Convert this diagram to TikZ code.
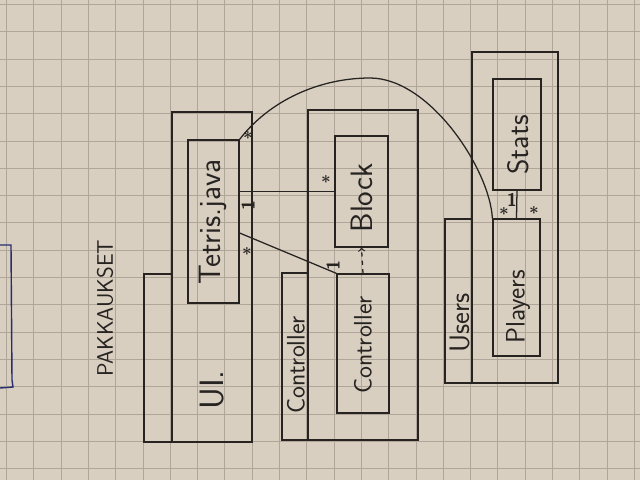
\documentclass[tikz,border=0pt]{standalone}
\usetikzlibrary{calc}
\definecolor{paper}{RGB}{216,207,193}
\definecolor{gridcol}{RGB}{175,166,153}
\definecolor{ink}{RGB}{38,35,33}
\definecolor{blueink}{RGB}{40,45,110}
\tikzset{
  pen/.style={draw=ink, line width=0.9pt},
  cls/.style={pen, rectangle, inner sep=0pt},
  txt/.style={rotate=90, text=ink, inner sep=0pt, font=\sffamily\fontsize{#1}{#1}\selectfont},
  mult/.style={text=ink, inner sep=0pt, font=\sffamily\bfseries\boldmath\fontsize{13}{13}\selectfont}
}

\begin{document}
\begin{tikzpicture}[x=0.025cm, y=-0.025cm]
\fill[paper] (0,0) rectangle (640,480);
\useasboundingbox (0,0) rectangle (640,480);
\foreach \i in {0,...,23} \draw[gridcol, line width=0.6pt] ({6.5+27.3*\i},0) -- ({6.5+27.3*\i},480);
\foreach \j in {0,...,17} \draw[gridcol, line width=0.6pt] (0,{4.5+27.3*\j}) -- (640,{4.5+27.3*\j});

% mark at the left edge
\draw[blueink, line width=1pt] (0,245) -- (11,245) -- (12,380) -- (13,387) -- (0,388);

% packages
\draw[pen] (172,112) rectangle (252,442);
\draw[pen] (144,274) rectangle (172,442);
\draw[pen] (308,110) rectangle (418,440);
\draw[pen] (282,273) rectangle (308,440);
\draw[pen] (472,52) rectangle (558,383);
\draw[pen] (445,219) rectangle (472,383);

% classes
\node[cls, minimum width=1.275cm, minimum height=4.075cm] (tetris) at (213.5,221.5) {};
\node[cls, minimum width=1.325cm, minimum height=2.775cm] (block) at (361.5,191.5) {};
\node[cls, minimum width=1.3cm, minimum height=3.475cm] (ctrlcls) at (363,343.5) {};
\node[cls, minimum width=1.175cm, minimum height=3.425cm] (players) at (516.5,287.5) {};
\node[cls, minimum width=1.2cm, minimum height=2.775cm] (stats) at (517,134.5) {};

% labels
\node[txt=16] (title) at (105,308) {PAKKAUKSET};
\node[txt=24] (uilbl) at (212,390) {UI.};
\node[txt=22] (tetrislbl) at (213,222) {Tetris.java};
\node[txt=18] (ctrlpkg) at (296,365) {Controller};
\node[txt=22] (blocklbl) at (362,198) {Block};
\node[txt=18] (ctrllbl) at (363,345) {Controller};
\node[txt=20] (userslbl) at (460,323) {Users};
\node[txt=19] (playerslbl) at (518,307) {Players};
\node[txt=21] (statslbl) at (518,145) {Stats};

% associations
\draw[pen] (tetris.north east) .. controls (270,100) and (320,78) .. (370,78)
  .. controls (430,78) and (490,170) .. (players.north west);
\draw[pen] (tetris.east |- block.west) -- (block.west);
\draw[pen] ($(tetris.north east)!0.57!(tetris.south east)$) -- (ctrlcls.north west);
\draw[pen, dashed, ->] (ctrlcls.north) -- (block.south);
\draw[pen] (stats.south) -- (players.north);

% multiplicities
\node[mult] (m1) at (248,136) {$*$};
\node[mult, rotate=90] (m2) at (248,205) {1};
\node[mult] (m3) at (247,252) {$*$};
\node[mult] (m4) at (326,180) {$*$};
\node[mult, rotate=90] (m5) at (333,265) {1};
\node[mult] (m6) at (504,212) {$*$};
\node[mult] (m7) at (512,200) {1};
\node[mult] (m8) at (534,211) {$*$};
\end{tikzpicture}
\end{document}
